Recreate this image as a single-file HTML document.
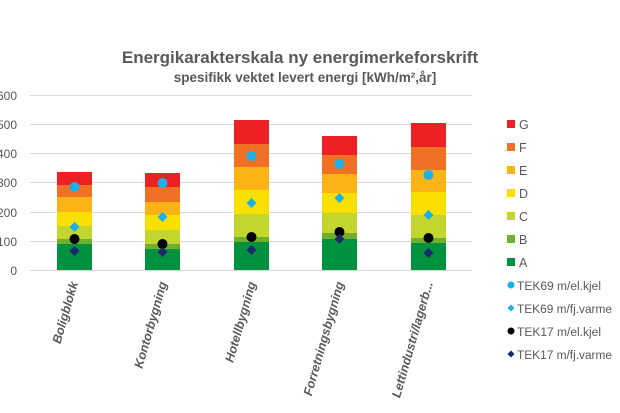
<!DOCTYPE html>
<html><head><meta charset="utf-8"><style>
body{margin:0;background:#fff;}
svg{display:block;font-family:"Liberation Sans",sans-serif;}
</style></head><body>
<svg width="620" height="413" viewBox="0 0 620 413" xmlns="http://www.w3.org/2000/svg">
<rect width="620" height="413" fill="#fff"/>
<text x="300" y="63" text-anchor="middle" font-size="17" font-weight="bold" fill="#595959">Energikarakterskala ny energimerkeforskrift</text>
<text x="305" y="82" text-anchor="middle" font-size="13.5" font-weight="bold" fill="#595959">spesifikk vektet levert energi [kWh/m²,år]</text>
<g stroke="#d9d9d9" stroke-width="1">
<line x1="30" x2="472" y1="95.5" y2="95.5"/><line x1="30" x2="472" y1="124.5" y2="124.5"/><line x1="30" x2="472" y1="153.5" y2="153.5"/><line x1="30" x2="472" y1="182.5" y2="182.5"/><line x1="30" x2="472" y1="212.5" y2="212.5"/><line x1="30" x2="472" y1="241.5" y2="241.5"/><line x1="30" x2="472" y1="270.5" y2="270.5"/>
</g>
<g font-size="12" fill="#595959" text-anchor="end">
<text x="17" y="100">600</text><text x="17" y="129">500</text><text x="17" y="158">400</text><text x="17" y="187">300</text><text x="17" y="217">200</text><text x="17" y="246">100</text><text x="17" y="275">0</text>
</g>
<g transform="translate(57,0)">
<rect y="244" width="35" height="26" fill="#00923f"/><rect y="239" width="35" height="5" fill="#71b02c"/><rect y="226" width="35" height="13" fill="#c2d62f"/><rect y="212" width="35" height="14" fill="#f9e000"/><rect y="197" width="35" height="15" fill="#fcb315"/><rect y="185" width="35" height="12" fill="#f07024"/><rect y="172" width="35" height="13" fill="#ed2124"/>
<circle cx="17.5" cy="187" r="5" fill="#1ab0ec"/><path d="M17.5 222l5 5l-5 5l-5-5z" fill="#1ab0ec"/><circle cx="17.5" cy="239" r="5" fill="#000"/><path d="M17.5 246l5 5l-5 5l-5-5z" fill="#1b2a6b"/>
</g>
<g transform="translate(145,0)">
<rect y="249" width="35" height="21" fill="#00923f"/><rect y="244" width="35" height="5" fill="#71b02c"/><rect y="230" width="35" height="14" fill="#c2d62f"/><rect y="215" width="35" height="15" fill="#f9e000"/><rect y="202" width="35" height="13" fill="#fcb315"/><rect y="187" width="35" height="15" fill="#f07024"/><rect y="173" width="35" height="14" fill="#ed2124"/>
<circle cx="17.5" cy="183" r="5" fill="#1ab0ec"/><path d="M17.5 212l5 5l-5 5l-5-5z" fill="#1ab0ec"/><circle cx="17.5" cy="244" r="5" fill="#000"/><path d="M17.5 247l5 5l-5 5l-5-5z" fill="#1b2a6b"/>
</g>
<g transform="translate(234,0)">
<rect y="242" width="35" height="28" fill="#00923f"/><rect y="237" width="35" height="5" fill="#71b02c"/><rect y="214" width="35" height="23" fill="#c2d62f"/><rect y="190" width="35" height="24" fill="#f9e000"/><rect y="167" width="35" height="23" fill="#fcb315"/><rect y="144" width="35" height="23" fill="#f07024"/><rect y="120" width="35" height="24" fill="#ed2124"/>
<circle cx="17.5" cy="156" r="5" fill="#1ab0ec"/><path d="M17.5 198l5 5l-5 5l-5-5z" fill="#1ab0ec"/><circle cx="17.5" cy="237" r="5" fill="#000"/><path d="M17.5 245l5 5l-5 5l-5-5z" fill="#1b2a6b"/>
</g>
<g transform="translate(322,0)">
<rect y="239" width="35" height="31" fill="#00923f"/><rect y="233" width="35" height="6" fill="#71b02c"/><rect y="213" width="35" height="20" fill="#c2d62f"/><rect y="193" width="35" height="20" fill="#f9e000"/><rect y="174" width="35" height="19" fill="#fcb315"/><rect y="155" width="35" height="19" fill="#f07024"/><rect y="136" width="35" height="19" fill="#ed2124"/>
<circle cx="17.5" cy="164" r="5" fill="#1ab0ec"/><path d="M17.5 193l5 5l-5 5l-5-5z" fill="#1ab0ec"/><circle cx="17.5" cy="232" r="5" fill="#000"/><path d="M17.5 234l5 5l-5 5l-5-5z" fill="#1b2a6b"/>
</g>
<g transform="translate(411,0)">
<rect y="243" width="35" height="27" fill="#00923f"/><rect y="238" width="35" height="5" fill="#71b02c"/><rect y="215" width="35" height="23" fill="#c2d62f"/><rect y="192" width="35" height="23" fill="#f9e000"/><rect y="170" width="35" height="22" fill="#fcb315"/><rect y="147" width="35" height="23" fill="#f07024"/><rect y="123" width="35" height="24" fill="#ed2124"/>
<circle cx="17.5" cy="175" r="5" fill="#1ab0ec"/><path d="M17.5 210l5 5l-5 5l-5-5z" fill="#1ab0ec"/><circle cx="17.5" cy="238" r="5" fill="#000"/><path d="M17.5 248l5 5l-5 5l-5-5z" fill="#1b2a6b"/>
</g>
<g font-size="12.5" fill="#595959">
<rect x="507" y="120" width="8" height="8" fill="#ed2124"/><text x="519" y="129">G</text>
<rect x="507" y="143" width="8" height="8" fill="#f07024"/><text x="519" y="152">F</text>
<rect x="507" y="166" width="8" height="8" fill="#fcb315"/><text x="519" y="175">E</text>
<rect x="507" y="189" width="8" height="8" fill="#f9e000"/><text x="519" y="198">D</text>
<rect x="507" y="212" width="8" height="8" fill="#c2d62f"/><text x="519" y="221">C</text>
<rect x="507" y="235" width="8" height="8" fill="#71b02c"/><text x="519" y="244">B</text>
<rect x="507" y="258" width="8" height="8" fill="#00923f"/><text x="519" y="267">A</text>
</g>
<g font-size="11.5" fill="#595959">
<circle cx="511" cy="285" r="3.5" fill="#1ab0ec"/><text x="517" y="290" textLength="84" lengthAdjust="spacingAndGlyphs">TEK69 m/el.kjel</text>
<path d="M511 304.5l3.5 3.5l-3.5 3.5l-3.5-3.5z" fill="#1ab0ec"/><text x="517" y="313" textLength="95" lengthAdjust="spacingAndGlyphs">TEK69 m/fj.varme</text>
<circle cx="511" cy="331" r="3.5" fill="#000"/><text x="517" y="336" textLength="84" lengthAdjust="spacingAndGlyphs">TEK17 m/el.kjel</text>
<path d="M511 350.5l3.5 3.5l-3.5 3.5l-3.5-3.5z" fill="#1b2a6b"/><text x="517" y="359" textLength="95" lengthAdjust="spacingAndGlyphs">TEK17 m/fj.varme</text>
</g>
<g font-size="12.5" font-style="italic" font-weight="bold" fill="#595959" text-anchor="end">
<text transform="translate(78,283) rotate(-74)">Boligblokk</text>
<text transform="translate(167,283) rotate(-74)">Kontorbygning</text>
<text transform="translate(256,283) rotate(-74)">Hotellbygning</text>
<text transform="translate(344,283) rotate(-74)">Forretningsbygning</text>
<text transform="translate(433,283) rotate(-74)">Lettindustri/lagerb...</text>
</g>
</svg>
</body></html>
